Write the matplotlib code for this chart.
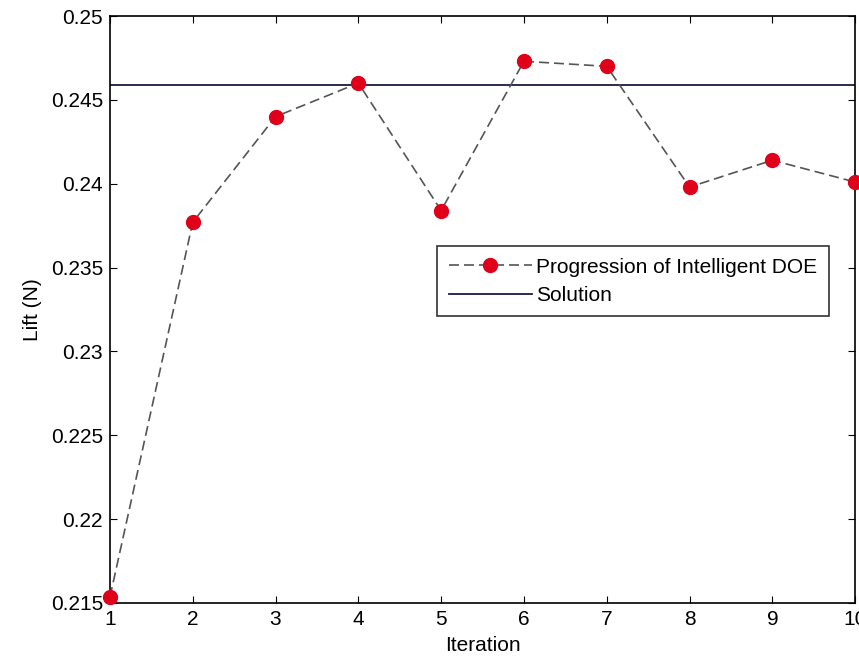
import matplotlib
matplotlib.use('Agg')
import matplotlib.pyplot as plt

iterations = [1, 2, 3, 4, 5, 6, 7, 8, 9, 10]
lift = [0.21536, 0.2377, 0.2440, 0.2460, 0.2384, 0.2473, 0.2470, 0.2398, 0.2414, 0.2401]
solution = 0.2459
yticks = [0.215, 0.22, 0.225, 0.23, 0.235, 0.24, 0.245, 0.25]

plt.rcParams['font.family'] = 'Liberation Sans'
fig = plt.figure(figsize=(8.59, 6.67), dpi=100)
ax = fig.add_axes([0.128, 0.096, 0.8675, 0.880])

ax.plot(iterations, lift, '--', color='#555555', lw=1.2, dashes=(6, 3),
        marker='o', markersize=10, markerfacecolor='#e0001a', markeredgecolor='#e0001a',
        label='Progression of Intelligent DOE', clip_on=False, zorder=3)
ax.axhline(solution, color='#1a1a40', lw=1.3, label='Solution')

ax.set_xlim(1, 10)
ax.set_ylim(0.215, 0.25)
ax.set_xticks(iterations)
ax.set_yticks(yticks)
ax.set_yticklabels([('%g' % v) for v in yticks])
ax.tick_params(direction='in', top=True, right=True, labelsize=15, length=5, width=0.8, pad=5)
for s in ax.spines.values():
    s.set_linewidth(1.2)

ax.set_xlabel('Iteration', fontsize=15, labelpad=5)
ax.set_ylabel('Lift (N)', fontsize=15, labelpad=6)

leg = ax.legend(loc='upper left', bbox_to_anchor=(0.439, 0.608), fontsize=15,
                frameon=True, fancybox=False, handlelength=4.0, handletextpad=0.2,
                borderpad=0.55, labelspacing=0.45, borderaxespad=0)
leg.get_frame().set_edgecolor('black')
leg.get_frame().set_linewidth(1.2)

fig.savefig('out.png', dpi=100)
